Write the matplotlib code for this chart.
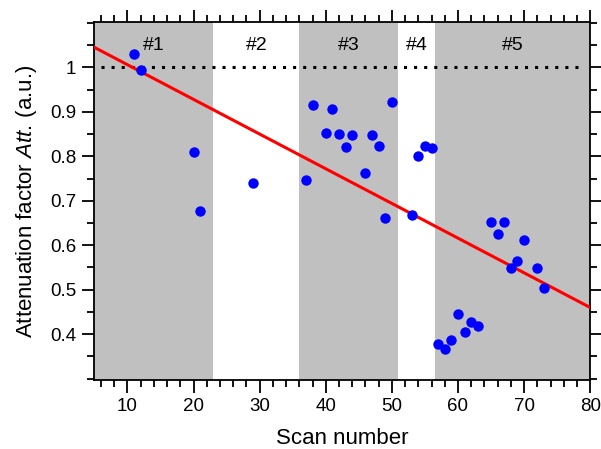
import numpy as np
import matplotlib
matplotlib.use('Agg')
import matplotlib.pyplot as plt
from matplotlib.ticker import MultipleLocator

plt.rcParams['font.family'] = ['Liberation Sans', 'DejaVu Sans']
plt.rcParams['mathtext.fontset'] = 'custom'
plt.rcParams['mathtext.it'] = 'Liberation Sans:italic'
plt.rcParams['mathtext.rm'] = 'Liberation Sans'

# données
scan = [11, 12, 20, 21, 29, 37, 38, 40, 41, 42, 43, 44, 46, 47, 48, 49, 50,
        53, 54, 55, 56, 57, 58, 59, 60, 61, 62, 63, 65, 66, 67, 68, 69, 70, 72, 73]
att = [1.029, 0.995, 0.809, 0.676, 0.739, 0.747, 0.915, 0.853, 0.907, 0.850,
       0.820, 0.847, 0.763, 0.847, 0.823, 0.661, 0.923,
       0.667, 0.801, 0.823, 0.818, 0.378, 0.366, 0.386, 0.446, 0.404, 0.427,
       0.418, 0.652, 0.625, 0.652, 0.549, 0.565, 0.611, 0.549, 0.503]

zones = ['#1', '#2', '#3', '#4', '#5']
bornes = [5, 23, 36, 51, 56.5, 80]       # limites des zones
grises = [True, False, True, False, True]

fit_x = [5, 80]
fit_y = [1.045, 0.46]                    # droite rouge (ajustement)

fig = plt.figure(figsize=(6.01, 4.49), dpi=100)
ax = fig.add_axes([0.157, 0.1537, 0.825, 0.7963])

for i in range(len(zones)):
    if grises[i]:
        ax.axvspan(bornes[i], bornes[i+1], color='#c0c0c0', lw=0, zorder=0)
    ax.text((bornes[i]+bornes[i+1])/2, 1.05, zones[i], ha='center', va='center', fontsize=14)

ax.plot([6, 79], [1, 1], color='black', lw=2.2, linestyle=(0, (1, 2.3)), zorder=2)
ax.plot(fit_x, fit_y, color='red', lw=2.2, zorder=3)
ax.plot(scan, att, 'o', color='blue', markersize=7.5, markeredgewidth=0, zorder=4)

ax.set_xlim(5, 80)
ax.set_ylim(0.297, 1.101)
ax.xaxis.set_major_locator(MultipleLocator(10))
ax.xaxis.set_minor_locator(MultipleLocator(2))
ax.set_yticks([0.4, 0.5, 0.6, 0.7, 0.8, 0.9, 1.0])
ax.set_yticklabels(['0.4', '0.5', '0.6', '0.7', '0.8', '0.9', '1'])
ax.yaxis.set_minor_locator(MultipleLocator(0.05))

ax.tick_params(which='both', direction='out', top=True, right=True, width=1.3,
               labelsize=13.5, pad=4)
ax.tick_params(which='major', length=9)
ax.tick_params(which='minor', length=5)
for s in ax.spines.values():
    s.set_linewidth(1.3)

ax.set_xlabel('Scan number', fontsize=16, labelpad=9)
ax.set_ylabel(r'Attenuation factor $\mathit{Att.}\,$(a.u.)', fontsize=16, labelpad=8)

fig.savefig('out.png', dpi=100)
